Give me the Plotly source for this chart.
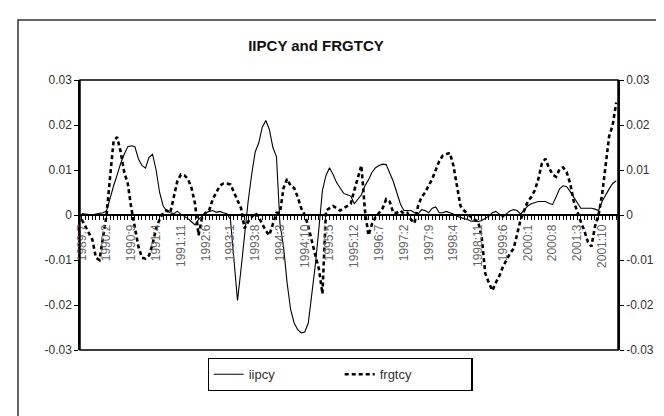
import plotly.graph_objects as go

# Monthly categories 1989:7 .. 2002:2
months = []
y, m = 1989, 7
while (y, m) <= (2002, 2):
    months.append(f"{y}:{m}")
    m += 1
    if m > 12:
        m = 1
        y += 1

# Series values (in units of 0.001)
iipcy_milli = [
    0.3, 0.2, 0.1, 0.0, 0.2, 0.3, 0.5, 0.9, 4.0, 6.5,
    8.9, 11.5, 13.5, 15.2, 15.4, 15.2, 12.5, 11.0, 10.4, 12.8,
    13.5, 10.0, 5.0, 2.0, 0.9, 0.5, 0.3, 0.8, 0.2, -0.3,
    -0.8, -1.5, -2.2, -1.0, -0.3, 0.5, 0.8, 1.0, 0.6, 0.8,
    0.5, 0.3, -1.0, -10.0, -19.0, -12.0, -4.0, 3.0, 9.0, 14.0,
    16.0, 19.5, 21.0, 19.0, 15.0, 13.0, -2.0, -7.0, -15.0, -21.0,
    -24.0, -25.5, -26.2, -26.0, -24.0, -18.0, -11.0, -3.0, 5.5, 8.8,
    10.5, 9.0, 7.2, 6.0, 4.8, 4.5, 4.2, 2.5, 3.5, 4.5,
    6.5, 7.8, 9.5, 10.5, 11.0, 11.3, 11.2, 9.5, 7.5, 5.0,
    2.5, 1.0, 1.0, 1.0, 0.5, 0.2, 1.2, 1.0, 0.5, 1.5,
    1.8, 0.5, 0.5, 0.8, 0.5, 0.2, -0.3, -0.6, -0.8, -1.0,
    -1.4, -1.3, -1.5, -1.2, -0.8, -0.3, 0.5, 0.8, 0.2, -0.5,
    0.3, 0.9, 1.2, 1.0, 0.2, 1.0, 2.0, 2.5, 2.8, 3.0,
    3.0, 3.0, 2.6, 2.3, 4.0, 5.8, 6.5, 6.3, 5.2, 4.0,
    2.5, 1.5, 1.5, 1.5, 1.5, 1.3, 1.0, 3.0, 4.5, 5.8,
    7.0, 7.6,
]
frgtcy_milli = [
    -1.0, -2.5, -4.0, -5.5, -9.5, -10.0, -5.0, 0.0, 8.5, 16.5,
    17.3, 14.0, 9.5, 7.0, 1.5, -3.0, -7.0, -9.5, -9.7, -9.0,
    -6.5, -3.0, -1.0, 0.5, 1.0, 0.5, 4.0, 7.5, 9.0, 8.8,
    8.0, 6.0, 2.5, -4.5, -0.5, 0.5, 1.0, 3.5, 5.0, 6.5,
    7.0, 7.0, 6.8, 5.0, 3.0, 1.5, -3.0, -1.5, -0.5, 0.5,
    -0.5, -2.0, -3.5, -4.5, -2.0, 0.5, 0.5, 6.0, 8.0, 6.5,
    6.0, 4.0, 1.5, 0.0, -2.5, -6.0, -9.0, -12.0, -17.5, 1.0,
    1.5, 2.0, 1.5, 1.0, 1.5, 2.0, 2.5, 5.5, 8.0, 11.0,
    1.0, -4.5, -2.0, -0.5, 0.5, 1.5, 3.5, 3.0, 0.5, 0.5,
    1.0, 0.3, 0.5, -1.0, -1.8, 2.0, 4.0, 5.0, 6.5, 8.0,
    10.0, 12.0, 13.2, 13.5, 13.8, 11.0, 6.0, 2.0, 1.0, 0.2,
    -0.5, -1.0, -1.5, -5.0, -13.0, -15.0, -16.8, -15.0, -13.5, -11.5,
    -10.0, -8.5, -7.5, -4.0, -1.0, 1.0, 3.0, 4.0, 5.5, 8.0,
    11.5, 12.5, 10.5, 9.0, 8.5, 10.2, 10.6, 9.5, 7.0, 3.0,
    0.5, -1.5, -3.5, -6.0, -7.0, -2.5, 0.0, 4.5, 11.0, 17.5,
    20.0, 25.0,
]
iipcy = [v / 1000 for v in iipcy_milli]
frgtcy = [v / 1000 for v in frgtcy_milli]

y_ticks = [0.03, 0.02, 0.01, 0, -0.01, -0.02, -0.03]
y_tick_text = ["0.03", "0.02", "0.01", "0", "-0.01", "-0.02", "-0.03"]

N = len(months)
xs = list(range(N))
label_idx = list(range(0, N, 7))
label_text = [months[i] for i in label_idx]

fig = go.Figure()
fig.add_trace(go.Scatter(x=xs, y=iipcy, name="iipcy", mode="lines",
                         line=dict(color="black", width=1.1), yaxis="y"))
fig.add_trace(go.Scatter(x=xs, y=frgtcy, name="frgtcy", mode="lines",
                         line=dict(color="black", width=2.6, dash="4px,3px"),
                         yaxis="y2"))

FONT = "Liberation Sans, Arial, sans-serif"
axis_font = dict(family=FONT, size=12, color="#333")

fig.update_layout(
    width=664, height=416,
    margin=dict(l=72, r=54, t=72, b=74, autoexpand=False),
    paper_bgcolor="white", plot_bgcolor="white",
    showlegend=True,
    title=dict(text="<b>IIPCY and FRGTCY</b>", x=308 / 664, y=1 - 38 / 416,
               xanchor="center", yanchor="middle",
               font=dict(family=FONT, size=15, color="#111")),
    xaxis=dict(
        range=[-0.5, N - 0.5],
        anchor="free", position=0.5,
        showline=True, linecolor="black", linewidth=1.5,
        showgrid=False, zeroline=False,
        tickmode="array", tickvals=label_idx, ticktext=label_text,
        ticks="outside", ticklen=4, tickcolor="black", tickwidth=1,
        tickangle=-90,
        tickfont=dict(family=FONT, size=12, color="#666"),
        minor=dict(tickmode="array", tickvals=xs, ticks="outside", ticklen=4,
                   tickcolor="black", tickwidth=1, showgrid=False),
        automargin=False,
    ),
    yaxis=dict(
        range=[-0.03, 0.03],
        tickmode="array", tickvals=y_ticks, ticktext=y_tick_text,
        showline=True, linecolor="black", linewidth=1.5,
        ticks="outside", ticklen=4, tickcolor="black",
        showgrid=False, zeroline=False,
        tickfont=axis_font, automargin=False,
    ),
    yaxis2=dict(
        range=[-0.03, 0.03], overlaying="y", side="right",
        tickmode="array", tickvals=y_ticks, ticktext=y_tick_text,
        showline=True, linecolor="black", linewidth=1.5,
        ticks="outside", ticklen=4, tickcolor="black",
        showgrid=False, zeroline=False,
        tickfont=axis_font, automargin=False,
    ),
    legend=dict(
        orientation="h", x=(332 - 72) / 538, y=-0.03, xanchor="center", yanchor="top",
        bordercolor="black", borderwidth=1.2, bgcolor="white",
        entrywidth=86, entrywidthmode="pixels",
        font=dict(family=FONT, size=13, color="#333"),
    ),
    shapes=[
        # plot-area frame
        dict(type="rect", xref="x domain", yref="y domain", x0=0, x1=1, y0=0, y1=1,
             line=dict(color="black", width=1.5), layer="above"),
        # outer chart border
        dict(type="rect", xref="paper", yref="paper",
             x0=(10 - 72) / 538, x1=(700 - 72) / 538,
             y0=(342 - 440) / 270, y1=(342 - 12) / 270,
             line=dict(color="#333", width=1.5)),
    ],
)

fig.write_html("out.html")
